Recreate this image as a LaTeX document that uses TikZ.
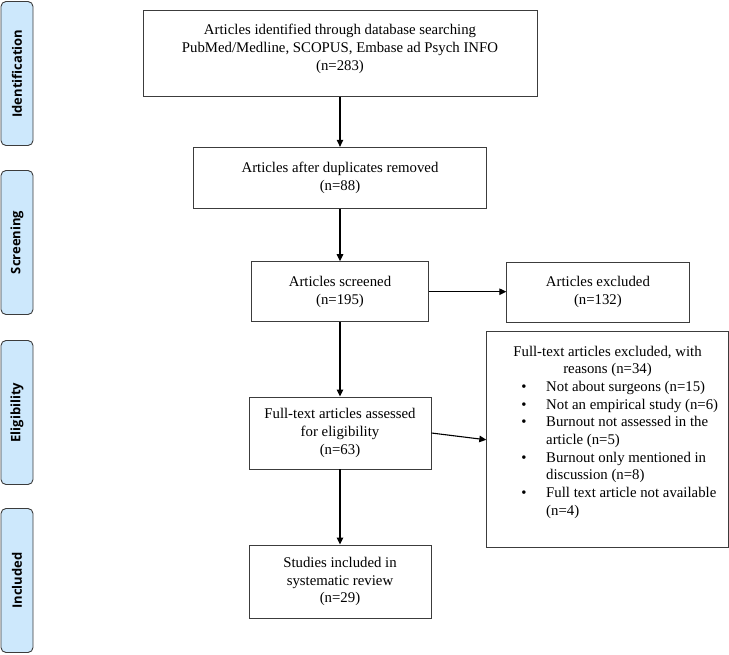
\documentclass[tikz,border=0pt]{standalone}
\usepackage{fontspec}
\setmainfont{Liberation Serif}
\newfontfamily\sidefont{Open Sans}
\usetikzlibrary{arrows.meta}
\definecolor{sideblue}{RGB}{205,232,252}
\definecolor{edgegray}{RGB}{60,60,60}
\begin{document}
\begin{tikzpicture}[x=1pt,y=-1pt,
  box/.style={draw=edgegray, line width=0.9pt, fill=white, inner sep=0pt, align=center,
    font=\fontsize{14.8}{17.7}\selectfont},
  txt/.style={inner sep=0pt, font=\fontsize{14.8}{17.7}\selectfont},
  side/.style={draw=edgegray, fill=sideblue, rounded corners=5pt, line width=0.9pt,
    rotate=90, minimum width=144pt, minimum height=32pt, inner sep=0pt,
    font=\sidefont\bfseries\fontsize{13}{15}\selectfont},
  arr/.style={-{Triangle[length=7pt,width=6.5pt]}, line width=1.1pt, black}]
\useasboundingbox (0,0) rectangle (729,655);

% side labels
\node[side] (sid) at (17,73.5) {Identification};
\node[side] (sscr) at (17,242.5) {Screening};
\node[side] (seli) at (17,412.5) {Eligibility};
\node[side] (sinc) at (17,580.5) {Included};

% main boxes
\node[box, minimum width=394pt, minimum height=86pt] (b1) at (340,53.7) {};
\node[txt, anchor=base] (t1) at (340,35) {\begin{tabular}[t]{@{}c@{}}Articles identified through database searching\\ PubMed/Medline, SCOPUS, Embase ad Psych INFO\\ (n=283)\end{tabular}};

\node[box, minimum width=293.4pt, minimum height=61pt] (b2) at (340,177.8)
  {Articles after duplicates removed\\ (n=88)};
\node[box, minimum width=176.6pt, minimum height=60pt] (b3) at (340,291.7)
  {Articles screened\\ (n=195)};
\node[box, minimum width=182.3pt, minimum height=60pt] (excl) at (597.9,292)
  {Articles excluded\\ (n=132)};
\node[box, minimum width=182pt, minimum height=72pt] (b4) at (340,433)
  {Full-text articles assessed\\ for eligibility\\ (n=63)};
\node[box, minimum width=182pt, minimum height=73pt] (b5) at (340,581.5)
  {Studies included in\\ systematic review\\ (n=29)};

\node[box, minimum width=241.3pt, minimum height=216pt] (full) at (607.4,439.8) {};
\node[txt, anchor=base] (fh) at (607.5,356) {\begin{tabular}[t]{@{}c@{}}Full-text articles excluded, with\\ reasons (n=34)\end{tabular}};
\node[txt, anchor=base west] (fl) at (521,391.4) {\begin{tabular}[t]{@{}l@{\hspace{19.5pt}}l@{}}
\makebox[5.5pt][c]{\textbullet} & Not about surgeons (n=15)\\
\makebox[5.5pt][c]{\textbullet} & Not an empirical study (n=6)\\
\makebox[5.5pt][c]{\textbullet} & Burnout not assessed in the\\
 & article (n=5)\\
\makebox[5.5pt][c]{\textbullet} & Burnout only mentioned in\\
 & discussion (n=8)\\
\makebox[5.5pt][c]{\textbullet} & Full text article not available\\
 & (n=4)
\end{tabular}};

% connectors
\draw[arr] (b1.south) -- (b2.north);
\draw[arr] (b2.south) -- (b3.north);
\draw[arr] (b3.east) -- (b3.east -| excl.west);
\draw[arr] (b3.south) -- (b4.north);
\draw[arr] (b4.east) -- (full.west);
\draw[arr] (b4.south) -- (b5.north);
\end{tikzpicture}
\end{document}
